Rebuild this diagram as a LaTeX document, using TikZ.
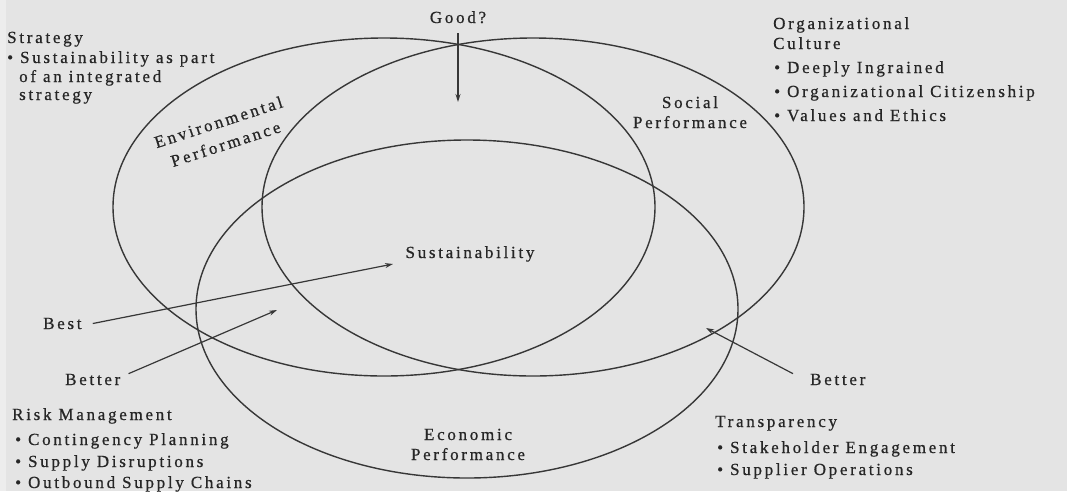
\documentclass[tikz,border=0pt]{standalone}
\usepackage{fontspec}
\setmainfont{Liberation Serif}[LetterSpace=16,FakeBold=0.7]
\usetikzlibrary{shapes.geometric,arrows.meta}
\definecolor{bgc}{RGB}{228,228,228}
\definecolor{ink}{RGB}{38,38,38}
\definecolor{linec}{RGB}{55,55,55}
\tikzset{
  txt/.style={font=\fontsize{17pt}{20pt}\selectfont, text=ink, inner sep=0pt, anchor=base west},
  ctxt/.style={txt, anchor=base},
  ring/.style={draw=linec, line width=1.4pt, ellipse, inner sep=0pt, minimum width=542pt, minimum height=338pt},
  arr/.style={draw=linec, line width=1.2pt, -{Stealth[length=8pt,width=5pt]}}
}
\begin{document}
\begin{tikzpicture}[x=1pt,y=-1pt]
\useasboundingbox (0,0) rectangle (1067,491);
\fill[bgc] (0,0) rectangle (1067,491);
\fill[white,opacity=0.35] (0,0) rectangle (6,491);

% circles
\node[ring] (env) at (384,207) {};
\node[ring] (soc) at (533,207) {};
\node[ring] (eco) at (467,309) {};

% labels in circles
\node[txt, anchor=center, align=center, rotate=18, font=\fontsize{17pt}{23pt}\selectfont] (envlab) at (222,133) {Environmental\\Performance};
\node[ctxt] (soc1) at (690,108) {Social};
\node[ctxt] (soc2) at (690,128) {Performance};
\node[ctxt] (eco1) at (468,440) {Economic};
\node[ctxt] (eco2) at (468,460) {Performance};
\node[ctxt] (sust) at (470,258) {Sustainability};

% Good?
\node[ctxt] (good) at (458,23) {Good?};
\coordinate (goodTip) at (458,102);
\draw[arr] ([yshift=-10pt]good.south) -- (goodTip);

% Best / Better
\node[txt] (best) at (43,329) {Best};
\coordinate (bestTip) at (393,264);
\draw[arr] ([xshift=11pt]best.east) -- (bestTip);

\node[txt] (betterL) at (65,385) {Better};
\coordinate (betterLTip) at (277,310);
\draw[arr] ([xshift=8pt]betterL.north east) -- (betterLTip);

\node[txt] (betterR) at (810,385) {Better};
\coordinate (betterRTip) at (706,328);
\draw[arr] ([xshift=-17pt]betterR.north west) -- (betterRTip);

% Strategy
\node[txt] (strat) at (7,43) {Strategy};
\node[txt] (strat1) at (7,63) {• Sustainability as part};
\node[txt] (strat2) at (19,82) {of an integrated};
\node[txt] (strat3) at (19,100) {strategy};

% Organizational culture
\node[txt] (org) at (773,29) {Organizational};
\node[txt] (org0) at (773,49) {Culture};
\node[txt] (org1) at (774,73) {• Deeply Ingrained};
\node[txt] (org2) at (774,97) {• Organizational Citizenship};
\node[txt] (org3) at (774,121) {• Values and Ethics};

% Risk management
\node[txt] (risk) at (12,420) {Risk Management};
\node[txt] (risk1) at (15,445) {• Contingency Planning};
\node[txt] (risk2) at (15,467) {• Supply Disruptions};
\node[txt] (risk3) at (15,488) {• Outbound Supply Chains};

% Transparency
\node[txt] (trans) at (715,427) {Transparency};
\node[txt] (trans1) at (717,453) {• Stakeholder Engagement};
\node[txt] (trans2) at (717,475) {• Supplier Operations};
\end{tikzpicture}
\end{document}
